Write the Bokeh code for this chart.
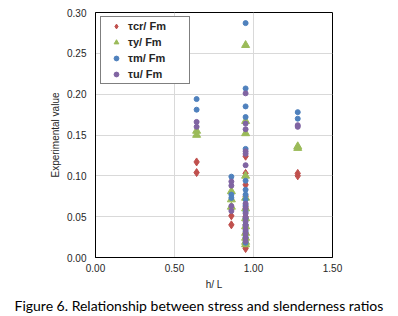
from bokeh.plotting import figure
from bokeh.models import (Range1d, FixedTicker, NumeralTickFormatter, Legend,
                          LegendItem, Title)
from bokeh.embed import file_html
from bokeh.resources import INLINE

# ---- data ----
tcr_x = [0.64, 0.64, 0.86, 0.86, 0.86,
         0.95, 0.95, 0.95, 0.95, 0.95, 0.95, 0.95, 0.95, 0.95, 0.95, 0.95, 0.95,
         1.28, 1.28]
tcr_y = [0.117, 0.104, 0.060, 0.051, 0.040,
         0.124, 0.103, 0.089, 0.075, 0.062, 0.050, 0.040, 0.030, 0.022, 0.016, 0.013, 0.011,
         0.103, 0.100]

ty_x = [0.64, 0.64, 0.86, 0.86, 0.86,
        0.95, 0.95, 0.95, 0.95, 0.95, 0.95, 0.95, 0.95, 0.95, 0.95, 0.95, 0.95,
        1.28, 1.28]
ty_y = [0.155, 0.150, 0.081, 0.071, 0.062,
        0.260, 0.167, 0.152, 0.100, 0.073, 0.060, 0.048, 0.038, 0.030, 0.024, 0.019, 0.016,
        0.136, 0.134]

tm_x = [0.64, 0.64, 0.86, 0.86, 0.86,
        0.95, 0.95, 0.95, 0.95, 0.95, 0.95, 0.95, 0.95, 0.95, 0.95, 0.95, 0.95,
        0.95, 0.95, 0.95, 0.95,
        1.28, 1.28]
tm_y = [0.194, 0.181, 0.099, 0.077, 0.073,
        0.287, 0.207, 0.185, 0.172, 0.133, 0.094, 0.083, 0.077, 0.071, 0.064, 0.056, 0.048,
        0.040, 0.032, 0.025, 0.018,
        0.178, 0.170]

tu_x = [0.64, 0.64, 0.86, 0.86, 0.86, 0.86,
        0.95, 0.95, 0.95, 0.95, 0.95, 0.95, 0.95, 0.95, 0.95, 0.95, 0.95, 0.95,
        0.95, 0.95, 0.95, 0.95,
        1.28, 1.28]
tu_y = [0.166, 0.160, 0.093, 0.088, 0.063, 0.057,
        0.201, 0.164, 0.157, 0.130, 0.127, 0.113, 0.066, 0.060, 0.054, 0.049, 0.044, 0.039,
        0.034, 0.029, 0.024, 0.020,
        0.162, 0.160]

series_labels = ["τcr/ Fm", "τy/ Fm", "τm/ Fm", "τu/ Fm"]
x_ticks = [0.0, 0.5, 1.0, 1.5]
y_ticks = [0.0, 0.05, 0.10, 0.15, 0.20, 0.25, 0.30]
x_title = "h/ L"
y_title = "Experimental value"
caption = "Figure 6. Relationship between stress and slenderness ratios"

# ---- figure ----
p = figure(width=398, height=316, output_backend="svg", toolbar_location=None,
           x_range=Range1d(0, 1.5), y_range=Range1d(0, 0.3),
           min_border_left=95, min_border_right=66, min_border_top=12,
           min_border_bottom=58)
p.background_fill_color = "white"
p.border_fill_color = "white"
p.outline_line_color = "black"
p.outline_line_width = 1

for ax in (p.xaxis[0], p.yaxis[0]):
    ax.axis_line_color = "black"
    ax.major_tick_out = 0
    ax.major_tick_in = 0
    ax.minor_tick_out = 0
    ax.minor_tick_in = 0
    ax.major_label_text_font = "Liberation Sans"
    ax.major_label_text_font_size = "10px"
    ax.major_label_text_color = "#262626"
    ax.formatter = NumeralTickFormatter(format="0.00")
    ax.axis_label_text_font = "Liberation Sans"
    ax.axis_label_text_font_size = "10px"
    ax.axis_label_text_font_style = "normal"
    ax.axis_label_text_color = "#262626"
p.xaxis[0].ticker = FixedTicker(ticks=x_ticks)
p.yaxis[0].ticker = FixedTicker(ticks=y_ticks)
p.xaxis[0].major_label_standoff = 6
p.yaxis[0].major_label_standoff = 9
p.xaxis[0].axis_label = x_title
p.yaxis[0].axis_label = y_title
p.xaxis[0].axis_label_standoff = 4
p.yaxis[0].axis_label_standoff = 3

p.xgrid.ticker = FixedTicker(ticks=x_ticks)
p.ygrid.ticker = FixedTicker(ticks=y_ticks)
p.xgrid.grid_line_color = "#d9d9d9"
p.ygrid.grid_line_color = "#d9d9d9"

r1 = p.scatter(tcr_x, tcr_y, marker="diamond", size=8, color="#C0504D")
r2 = p.scatter(ty_x, ty_y, marker="triangle", size=8, color="#9BBB59")
r3 = p.scatter(tm_x, tm_y, marker="circle", size=5, color="#4F81BD")
r4 = p.scatter(tu_x, tu_y, marker="circle", size=5, color="#8064A2")

legend = Legend(items=[LegendItem(label=series_labels[0], renderers=[r1]),
                       LegendItem(label=series_labels[1], renderers=[r2]),
                       LegendItem(label=series_labels[2], renderers=[r3]),
                       LegendItem(label=series_labels[3], renderers=[r4])],
                location=(5, 173), padding=3, spacing=4, margin=0,
                glyph_width=24, glyph_height=12, label_height=12, label_width=58,
                label_standoff=0,
                label_text_font="Liberation Sans", label_text_font_size="11px",
                label_text_font_style="bold", label_text_color="#262626",
                border_line_color="black", border_line_width=1,
                background_fill_color="white", background_fill_alpha=1)
p.add_layout(legend, "center")

p.add_layout(Title(text=caption, align="left", offset=-81, standoff=5,
                   text_font="Lato", text_font_size="14px",
                   text_font_style="normal", text_color="black"), "below")

open("out.html", "w").write(file_html(p, INLINE))
